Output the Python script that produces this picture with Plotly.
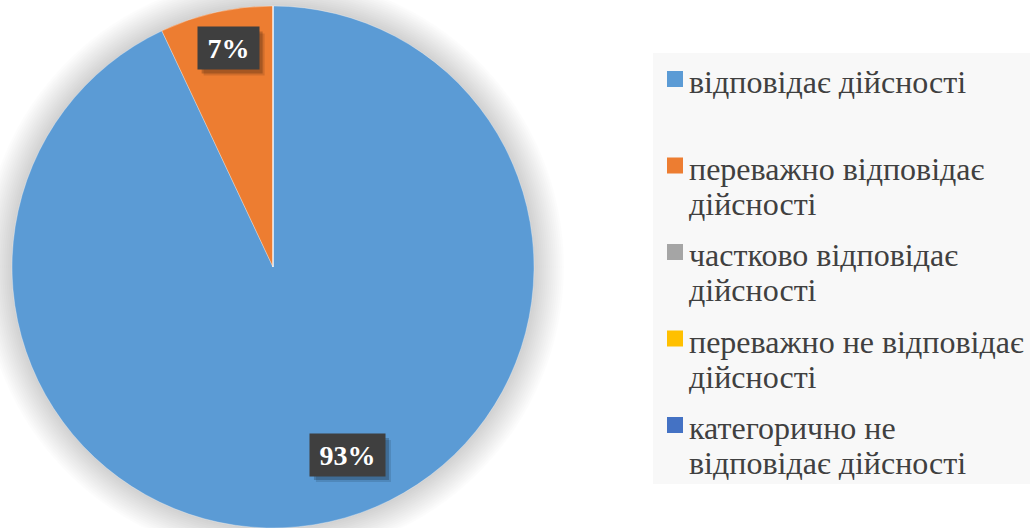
import math
import textwrap
import plotly.graph_objects as go

# ---- data ----
categories = [
    "відповідає дійсності",
    "переважно відповідає дійсності",
    "частково відповідає дійсності",
    "переважно не відповідає дійсності",
    "категорично не відповідає дійсності",
]
values = [93, 7, 0, 0, 0]
label_texts = ["93%", "7%"]

# ---- style ----
colors = ["#5B9BD5", "#ED7D31", "#A5A5A5", "#FFC000", "#4472C4"]
W, H = 1030, 528
MT = 6
PH = H - MT
CX, CY, R = 273, 267, 261  # pie centre/radius in pixels
label_angle_shift = [-9.0, 1.0]
label_radius_frac = [0.775, 0.855]
label_box_w = [75, 61]
label_box_h = 42
FONT = "Liberation Serif, Times New Roman, serif"


def px(x):
    return x / W


def py(y):
    return 1 - (y - MT) / PH


fig = go.Figure()
fig.add_trace(go.Pie(
    labels=categories,
    values=values,
    sort=False,
    direction="clockwise",
    rotation=0,
    marker=dict(colors=colors, line=dict(color="rgba(255,255,255,0.6)", width=0.5)),
    textinfo="none",
    hoverinfo="label+percent",
    showlegend=False,
    domain=dict(x=[px(CX - R), px(CX + R)], y=[0, 1]),
))

shapes = []
# soft glow/shadow around the pie
for k in range(1, 16):
    rr = R + 2 * k
    shapes.append(dict(
        type="circle", xref="paper", yref="paper", layer="below",
        x0=px(CX - rr), x1=px(CX + rr), y0=py(CY + rr), y1=py(CY - rr),
        fillcolor="rgba(0,0,0,0.013)", line=dict(width=0),
    ))

# legend background
shapes.append(dict(
    type="rect", xref="paper", yref="paper", layer="below",
    x0=px(653), x1=px(1030), y0=py(484), y1=py(53),
    fillcolor="#F8F8F8", line=dict(width=0),
))

annotations = []
# data labels
total = sum(values)
cum = 0.0
for i, v in enumerate(values):
    frac = v / total
    if i < len(label_texts) and v > 0:
        mid = (cum + frac / 2) * 360 + label_angle_shift[i]
        rad = math.radians(mid)
        rr = R * label_radius_frac[i]
        lx = CX + rr * math.sin(rad)
        ly = CY - rr * math.cos(rad)
        bw, bh = label_box_w[i], label_box_h
        # shadow box
        for s, a in ((6, 0.12), (4, 0.2)):
            shapes.append(dict(
                type="rect", xref="paper", yref="paper",
                x0=px(lx - bw / 2 + s), x1=px(lx + bw / 2 + s),
                y0=py(ly + bh / 2 + s), y1=py(ly - bh / 2 + s),
                fillcolor="rgba(0,0,0,%s)" % a, line=dict(width=0),
            ))
        annotations.append(dict(
            x=px(lx), y=py(ly), xref="paper", yref="paper",
            xanchor="center", yanchor="middle",
            text="<b>%s</b>" % label_texts[i], showarrow=False,
            font=dict(family=FONT, size=28, color="white"),
            bgcolor="#3F3F3F", borderpad=0,
            width=bw, height=bh,
        ))
    cum += frac

# custom legend
first_y = 79
step = 86.5
line_h = 35
for i, cat in enumerate(categories):
    cy = first_y + i * step
    shapes.append(dict(
        type="rect", xref="paper", yref="paper",
        x0=px(667), x1=px(683), y0=py(cy + 8), y1=py(cy - 8),
        fillcolor=colors[i], line=dict(width=0),
    ))
    lines = textwrap.wrap(cat, width=23)
    for j, ln in enumerate(lines):
        annotations.append(dict(
            x=px(688), y=py(cy + j * line_h + 3), xref="paper", yref="paper",
            xanchor="left", yanchor="middle", align="left",
            text=ln, showarrow=False,
            font=dict(family=FONT, size=32, color="#404040"),
            borderpad=0,
        ))

fig.update_layout(
    width=W, height=H,
    margin=dict(l=0, r=0, t=MT, b=0),
    paper_bgcolor="white",
    plot_bgcolor="white",
    shapes=shapes,
    annotations=annotations,
    showlegend=False,
)

fig.write_html("out.html", config={"displayModeBar": False},
               post_script="document.body.style.margin='0';")
